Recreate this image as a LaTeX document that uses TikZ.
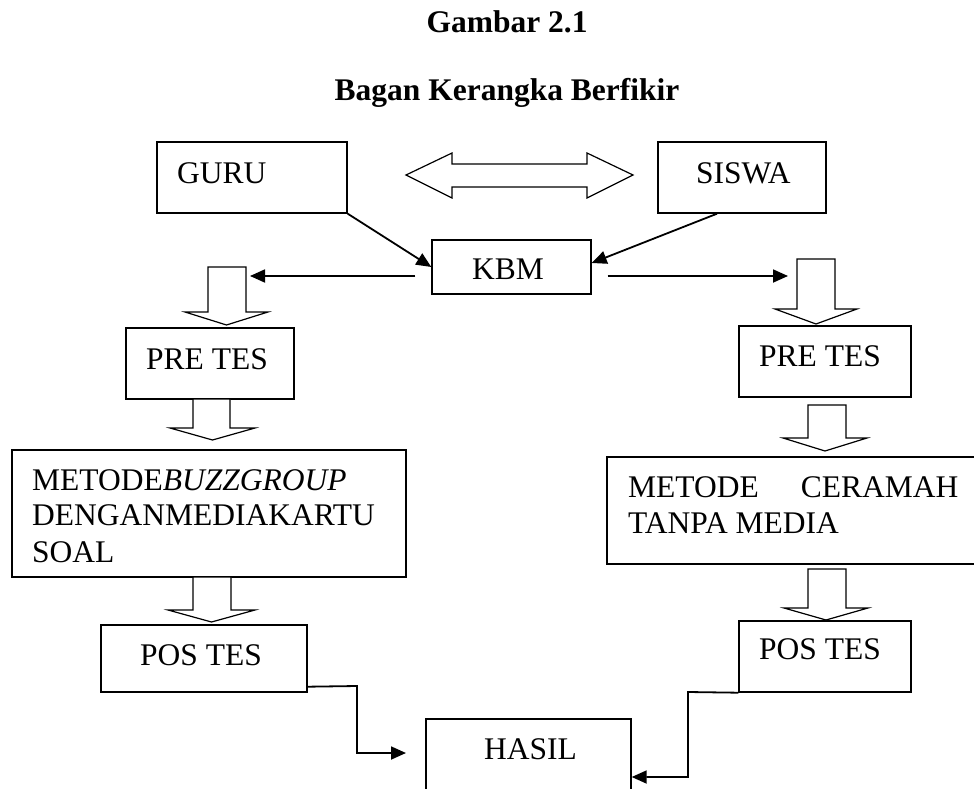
\documentclass[tikz,border=0pt]{standalone}
\usepackage{fontspec}
\setmainfont{Liberation Serif}
\usetikzlibrary{arrows.meta,calc}

\tikzset{
  box/.style={draw, line width=1.4pt, inner sep=0pt, rectangle},
  txt/.style={inner sep=0pt, anchor=base west, font=\fontsize{31.5pt}{35pt}\selectfont},
  ttl/.style={inner sep=0pt, anchor=base, font=\fontsize{31.5pt}{35pt}\selectfont\bfseries},
  conn/.style={line width=1.8pt, -{Triangle[length=15pt,width=13pt]}},
  fat/.style={draw, line width=1.2pt, line join=miter, fill=white},
}

% hollow block arrow pointing down:
% shaft x-left, x-right, top y, head-base y, head x-left, head x-right, tip y
\newcommand{\blockdown}[7]{%
  \draw[fat] (#1,#3) -- (#1,#4) -- (#5,#4) -- ({(#5+#6)/2},#7)
    -- (#6,#4) -- (#2,#4) -- (#2,#3) -- cycle;}

\begin{document}
\begin{tikzpicture}[x=1pt, y=-1pt]
\useasboundingbox (0,0) rectangle (974,789);
\clip (0,0) rectangle (974,789);

% titles
\node[ttl] (t1) at (507,33) {Gambar 2.1};
\node[ttl] (t2) at (507,101) {Bagan Kerangka Berfikir};

% boxes
\node[box, minimum width=190pt, minimum height=71pt] (guru)  at (252,177.5) {};
\node[box, minimum width=168pt, minimum height=71pt] (siswa) at (742,177.5) {};
\node[box, minimum width=159pt, minimum height=54pt] (kbm)   at (511.5,267) {};
\node[box, minimum width=168pt, minimum height=71pt] (lpre)  at (210,363.5) {};
\node[box, minimum width=394pt, minimum height=127pt] (buzz) at (209,513.5) {};
\node[box, minimum width=206pt, minimum height=67pt] (lpos)  at (204,658.5) {};
\node[box, minimum width=205pt, minimum height=91pt] (hasil) at (528.5,764.5) {};
\node[box, minimum width=172pt, minimum height=71pt] (rpre)  at (825,361.5) {};
\node[box, minimum width=393pt, minimum height=107pt] (ceramah) at (803.5,510.5) {};
\node[box, minimum width=172pt, minimum height=71pt] (rpos)  at (825,656.5) {};

% box texts
\node[txt] (guruT)  at (177,183) {GURU};
\node[txt] (siswaT) at (696,183) {SISWA};
\node[txt] (kbmT)   at (472,279) {KBM};
\node[txt] (lpreT)  at (146,369) {PRE TES};
\node[txt] (buzzA)  at (32,490) {METODE\textit{BUZZGROUP}};
\node[txt] (buzzB)  at (32,525) {DENGANMEDIAKARTU};
\node[txt] (buzzC)  at (32,562) {SOAL};
\node[txt] (lposT)  at (140,665) {POS TES};
\node[txt] (hasilT) at (484,759) {HASIL};
\node[txt] (rpreT)  at (759,366) {PRE TES};
\node[txt] (ceraA)  at (628,497) {METODE\hspace{42pt}CERAMAH};
\node[txt] (ceraB)  at (628,533) {TANPA MEDIA};
\node[txt] (rposT)  at (759,659) {POS TES};

% two-way hollow arrow between GURU and SISWA
\draw[fat] (406,175) -- (452,153) -- (452,164) -- (587,164) -- (587,153)
  -- (633,175) -- (587,198) -- (587,187) -- (452,187) -- (452,198) -- cycle;

% hollow block arrows
\blockdown{208}{246}{267}{312}{185}{268}{325}
\blockdown{193}{230}{399}{428}{170}{255}{440}
\blockdown{193}{231}{577}{610}{168}{255}{622}
\blockdown{797}{835}{259}{309}{775}{857}{324}
\blockdown{808}{846}{405}{438}{783}{867}{451}
\blockdown{808}{846}{569}{608}{784}{868}{620}

% free ends of the connectors
\coordinate (leftIn)  at (250,276);
\coordinate (rightIn) at (788,276);
\coordinate (hasilL)  at (406,753);

% connectors
\draw[conn] (guru.south east) -- (kbm.west);
\draw[conn] ($(siswa.south)+(-25,0)$) -- ($(kbm.east)+(0,-4)$);
\draw[conn] ($(kbm.west)+(-16,9)$) -- (leftIn);
\draw[conn] ($(kbm.east)+(16,9)$) -- (rightIn);
\draw[conn] ($(lpos.south east)+(0,-6)$) -- (357,686) |- (hasilL);
\draw[conn] (rpos.south west) -- (688,692) |- ($(hasil.east)+(0,12.5)$);
\end{tikzpicture}
\end{document}
